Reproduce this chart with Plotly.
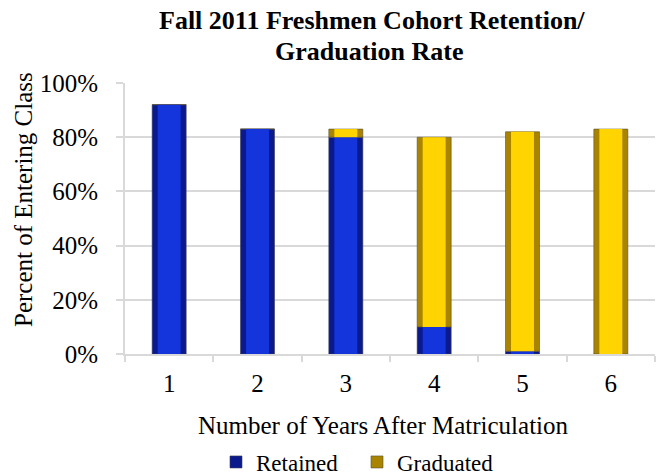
import plotly.graph_objects as go

years = ["1", "2", "3", "4", "5", "6"]
retained = [92, 83, 80, 10, 1, 0]
graduated = [0, 0, 3, 70, 81, 83]
y_ticks = [0, 20, 40, 60, 80, 100]
y_tick_labels = ["0%", "20%", "40%", "60%", "80%", "100%"]
title_lines = ["Fall 2011 Freshmen Cohort Retention/", "Graduation Rate"]

FONT = "Liberation Serif, Times New Roman, serif"
BLUE_OUT, BLUE_IN = "#0A1A8C", "#1434DC"
GOLD_OUT, GOLD_IN = "#A88400", "#FFD400"
W_OUT, W_IN = 0.385, 0.26

L, R, T, B = 125, 1, 83, 121
PW, PH = 656 - L - R, 475 - T - B


def px_x(x):
    return (x - L) / PW


def px_y(y):
    return (475 - B - y) / PH


fig = go.Figure()
fig.add_bar(x=years, y=retained, base=[0]*6, width=W_OUT, name="Retained",
            marker=dict(color=BLUE_OUT, line=dict(color="#3a3a5a", width=0.6)))
fig.add_bar(x=years, y=graduated, base=retained, width=W_OUT, name="Graduated",
            marker=dict(color=GOLD_OUT, line=dict(color="#5a5030", width=0.6)))
fig.add_bar(x=years, y=retained, base=[0]*6, width=W_IN, showlegend=False,
            marker=dict(color=BLUE_IN, line=dict(width=0)), hoverinfo="skip")
fig.add_bar(x=years, y=graduated, base=retained, width=W_IN, showlegend=False,
            marker=dict(color=GOLD_IN, line=dict(width=0)), hoverinfo="skip")

fig.update_layout(
    template="none",
    width=656, height=475,
    margin=dict(l=L, r=R, t=T, b=B, autoexpand=False),
    barmode="overlay",
    plot_bgcolor="white", paper_bgcolor="white",
    font=dict(family=FONT, size=25, color="black"),
    showlegend=True,
    legend=dict(orientation="h", x=px_x(216), xref="paper", xanchor="left",
                y=px_y(462), yanchor="middle", font=dict(family=FONT, size=23),
                traceorder="normal", itemwidth=30, entrywidth=96,
                bgcolor="rgba(0,0,0,0)"),
    annotations=[
        dict(text="<b>%s</b>" % title_lines[0], showarrow=False,
             xref="paper", yref="paper", x=px_x(372), y=px_y(20),
             xanchor="center", yanchor="middle", font=dict(family=FONT, size=26)),
        dict(text="<b>%s</b>" % title_lines[1], showarrow=False,
             xref="paper", yref="paper", x=px_x(369), y=px_y(51),
             xanchor="center", yanchor="middle", font=dict(family=FONT, size=26)),
        dict(text="Percent of Entering Class", textangle=-90, showarrow=False,
             xref="paper", yref="paper", x=px_x(23), y=px_y(200),
             xanchor="center", yanchor="middle", font=dict(family=FONT, size=25)),
        dict(text="Number of Years After Matriculation", showarrow=False,
             xref="paper", yref="paper", x=px_x(383), y=px_y(425),
             xanchor="center", yanchor="middle", font=dict(family=FONT, size=25)),
    ],
)
fig.update_xaxes(type="category", range=[-0.5, 5.5], showgrid=False,
                 automargin=False,
                 showline=True, linecolor="#d9d9d9", linewidth=2,
                 ticks="outside", tickson="boundaries", ticklen=6,
                 tickcolor="#d9d9d9", tickwidth=2, ticklabelstandoff=6,
                 tickfont=dict(family=FONT, size=25))
fig.update_yaxes(range=[0, 100], tickvals=y_ticks, ticktext=y_tick_labels,
                 automargin=False,
                 showgrid=True, gridcolor="#d9d9d9", gridwidth=2,
                 showline=True, linecolor="#d9d9d9", linewidth=2,
                 ticks="outside", ticklen=7, tickcolor="#d9d9d9", tickwidth=2,
                 ticklabelstandoff=13, zeroline=False,
                 tickfont=dict(family=FONT, size=25))

fig.write_html("out.html", config={"displayModeBar": False},
               post_script="document.body.style.margin='0';document.body.style.overflow='hidden';")
